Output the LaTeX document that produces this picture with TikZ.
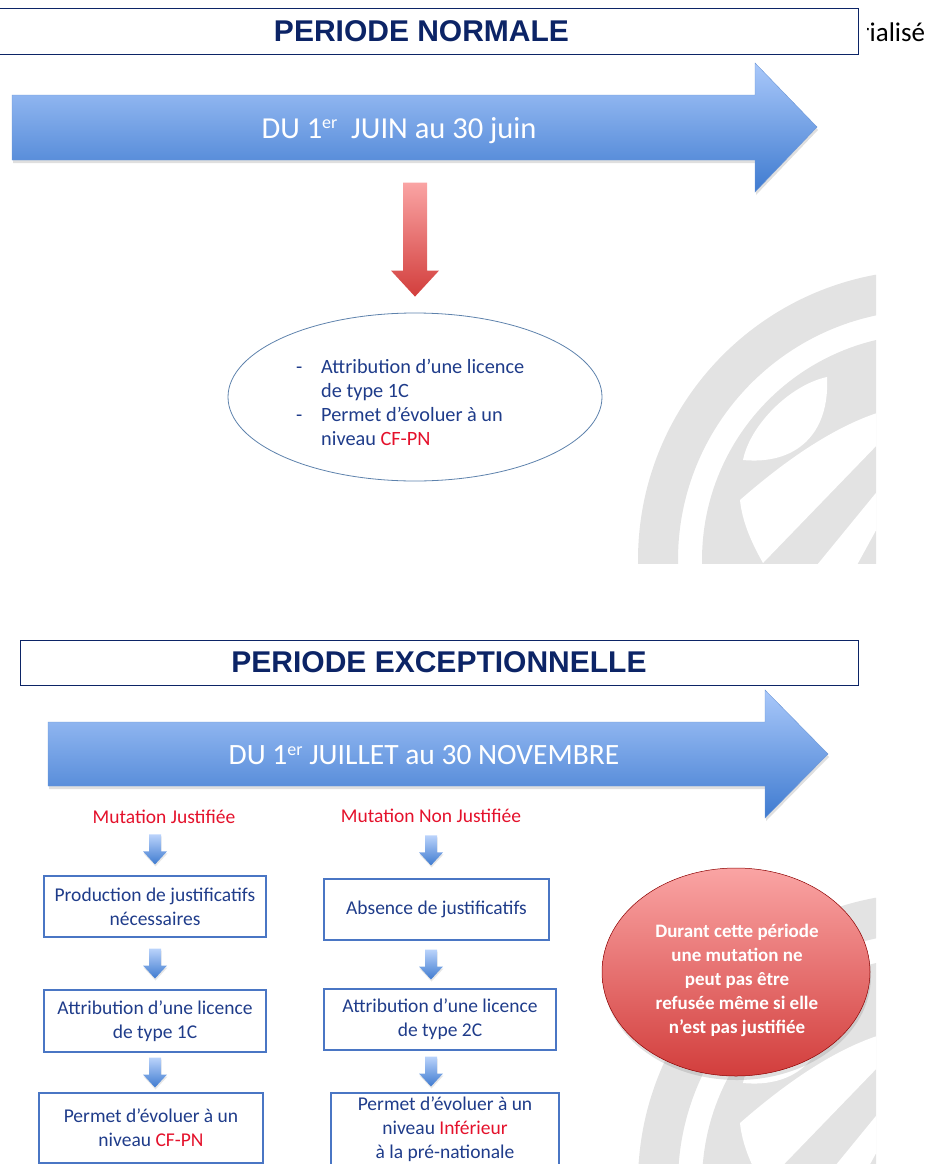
\documentclass[tikz,border=0pt]{standalone}
\usepackage{fontspec}
\setmainfont{Carlito}
\newfontfamily\arialfont{Liberation Sans}
\usetikzlibrary{shapes.geometric,shadows,calc}

\definecolor{titlenavy}{HTML}{0C2466}
\definecolor{textblue}{HTML}{1F3C8A}
\definecolor{alertred}{HTML}{E4112B}
\definecolor{boxblue}{HTML}{4A76C4}
\definecolor{arrowtop}{HTML}{A9C8FA}
\definecolor{arrowbottom}{HTML}{3F7BD0}
\definecolor{arrowedge}{HTML}{6B96D6}
\definecolor{pinktop}{HTML}{FAA4A4}
\definecolor{redbottom}{HTML}{D23E3C}
\definecolor{logogray}{HTML}{E3E3E3}
\definecolor{ellipseline}{HTML}{5E82AC}

\newcommand{\premier}{1\raisebox{0.32em}{\fontsize{18}{18}\selectfont er}}

\tikzset{
    titleline/.style={draw=titlenavy, line width=0.9pt},
    titletext/.style={font=\arialfont\bfseries\fontsize{30}{35}\selectfont, text=titlenavy},
    bluearrow/.style={top color=arrowtop, bottom color=arrowbottom, draw=arrowedge, line width=0.4pt,
        drop shadow={shadow xshift=1pt, shadow yshift=-3pt, opacity=0.25}},
    redarrow/.style={top color=pinktop, bottom color=redbottom, draw=none},
    arrowtext/.style={text=white, inner sep=0pt},
    redtext/.style={text=alertred, font=\fontsize{19.5}{24}\selectfont, inner sep=0pt},
    flowbox/.style={draw=boxblue, line width=1.1pt, text=textblue, align=center,
        font=\fontsize{19.5}{24}\selectfont, inner sep=0pt},
    condellipse/.style={ellipse, draw=ellipseline, line width=0.8pt, minimum width=374pt, minimum height=168pt},
    condtext/.style={text=textblue, align=left, inner sep=0pt, font=\fontsize{20.3}{24}\selectfont},
    redbubble/.style={ellipse, draw=red!55!black, line width=0.5pt, top color=pinktop, bottom color=redbottom,
        minimum width=268pt, minimum height=208pt,
        drop shadow={shadow xshift=1pt, shadow yshift=-4pt, opacity=0.25}},
    bubbletext/.style={text=white, align=center, font=\bfseries\fontsize{19}{24}\selectfont},
    bluedown/.pic={
        \shade[top color=arrowtop!80!white, bottom color=arrowbottom,
            drop shadow={shadow xshift=0.5pt, shadow yshift=-2pt, opacity=0.2}]
            (-6,-15) -- (6,-15) -- (6,2) -- (12,2) -- (0,15) -- (-12,2) -- (-6,2) -- cycle;
    },
    watermark/.pic={
        \begin{scope}
            \clip (-292,-292) rectangle (-52,3);
            \draw[logogray, line width=40pt] (0,0) circle (270);
            \fill[logogray] (0,0) circle (226);
            \fill[white] (-185,-100) .. controls (-178,-135) and (-138,-175) .. (-101,-183)
                .. controls (-98,-125) and (-133,-95) .. (-185,-100) -- cycle;
            \fill[white] (-188,-60) .. controls (-148,-95) and (-98,-132) .. (-48,-148) -- (-48,-118)
                -- (-165,3) .. controls (-178,-20) and (-186,-40) .. (-188,-60) -- cycle;
            \fill[white] (-111,5) -- (-48,-72) -- (-48,-37) -- (-71,5) -- cycle;
        \end{scope}
    }
}

\begin{document}
\begin{tikzpicture}[x=1pt, y=-1pt]
    \useasboundingbox (0,0) rectangle (942,1164);

    \pic at (928,560) {watermark};
    \pic at (928,1183) {watermark};

    \draw[titleline] (-1,8) rectangle (858,54) node[pos=0.5, titletext, xshift=-7pt] (normale) {PERIODE NORMALE};
    \begin{scope}
        \clip (867,0) rectangle (942,60);
        \node[anchor=base west, inner sep=0pt, font=\fontsize{27}{32}\selectfont] (suite) at (860,42) {rialisé};
    \end{scope}

    \shade[bluearrow] (12,95) -- (755,95) -- (755,63) -- (817,127) -- (755,192) -- (755,160) -- (12,160) -- cycle;
    \node[arrowtext, anchor=base, font=\fontsize{30.5}{36}\selectfont] (juin) at (399,138) {DU \premier\ \ JUIN au 30 juin};

    \node[condellipse] (cond) at (415,397) {};
    \node[condtext, anchor=west] (condlist) at (296,402) {\makebox[25pt][l]{-}Attribution d’une licence\\
        \hspace*{25pt}de type 1C\\
        \makebox[25pt][l]{-}Permet d’évoluer à un\\
        \hspace*{25pt}niveau \textcolor{alertred}{CF-PN}};
    \shade[redarrow] ($(cond.north)+(-12,-130)$) -- ++(24,0) -- ++(0,88) -- ++(12,0) -- ++(-24,26) -- ++(-24,-26) -- ++(12,0) -- cycle;

    \draw[titleline] (20,640) rectangle (858,685) node[pos=0.5, titletext] (exception) {PERIODE EXCEPTIONNELLE};

    \shade[bluearrow] (48,722) -- (765,722) -- (765,690) -- (828,754) -- (765,818) -- (765,786) -- (48,786) -- cycle;
    \node[arrowtext, anchor=base, font=\fontsize{29.5}{34}\selectfont] (juillet) at (424,764.5) {DU \premier\ JUILLET au 30 NOVEMBRE};

    \node[redtext, anchor=base] (mj) at (164,823) {Mutation Justifiée};
    \node[redtext, anchor=base] (mnj) at (431,822) {Mutation Non Justifiée};

    \node[flowbox, minimum width=222pt, minimum height=61pt] (prod) at (155,906.5) {Production de justificatifs\\nécessaires};
    \node[flowbox, minimum width=222pt, minimum height=62pt] (attr1) at (155,1021) {Attribution d’une licence\\de type 1C};
    \node[flowbox, minimum width=224pt, minimum height=70pt] (niv1) at (151,1128) {Permet d’évoluer à un\\niveau \textcolor{alertred}{CF-PN}};

    \node[flowbox, minimum width=225pt, minimum height=61pt] (absence) at (436.5,909.5) {Absence de justificatifs};
    \node[flowbox, minimum width=232pt, minimum height=61pt] (attr2) at (440,1019.5) {Attribution d’une licence\\de type 2C};
    \node[flowbox, minimum width=228pt, minimum height=72pt] (niv2) at (445,1129) {Permet d’évoluer à un\\niveau \textcolor{alertred}{Inférieur}\\à la pré-nationale};

    \pic at ($(mj.south -| prod.north)!0.5!(prod.north)$) {bluedown};
    \pic at ($(prod.south)!0.5!(attr1.north)$) {bluedown};
    \pic at ($(attr1.south)!0.5!(niv1.north -| attr1.south)$) {bluedown};
    \pic at ($(mnj.south)!0.5!(absence.north -| mnj.south)$) {bluedown};
    \pic at ($(absence.south -| mnj.south)!0.5!(attr2.north -| mnj.south)$) {bluedown};
    \pic at ($(attr2.south -| mnj.south)!0.5!(niv2.north -| mnj.south)$) {bluedown};

    \node[redbubble] (bulle) at (736,972) {};
    \node[bubbletext] (durant) at (737,980.5) {Durant cette période\\une mutation ne\\peut pas être\\refusée même si elle\\n’est pas justifiée};
\end{tikzpicture}
\end{document}
